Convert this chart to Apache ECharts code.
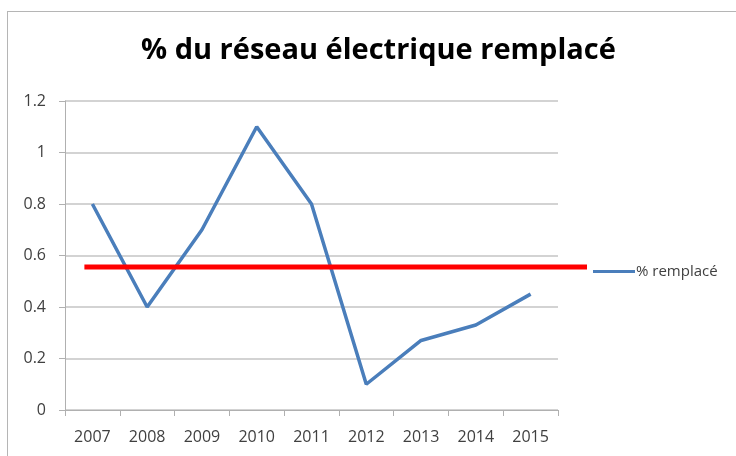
<!DOCTYPE html>
<html>
<head>
<meta charset="utf-8">
<script src="https://cdn.jsdelivr.net/npm/echarts@6/dist/echarts.min.js"></script>
<style>
  html, body { margin: 0; padding: 0; background: #fff; }
  #frame {
    position: absolute; left: 7px; top: 11px; width: 740px; height: 460px;
    border-left: 1px solid #b5b5b5; border-top: 1px solid #b5b5b5;
  }
  #chart { position: absolute; left: 0; top: 0; width: 736px; height: 456px; }
</style>
</head>
<body>
<div id="frame"></div>
<div id="chart"></div>
<script>
  // données
  const years = ['2007', '2008', '2009', '2010', '2011', '2012', '2013', '2014', '2015'];
  const remplace = [0.8, 0.4, 0.7, 1.1, 0.8, 0.1, 0.27, 0.33, 0.45];
  const redLineValue = 0.555; // trait rouge ajouté sur l'image
  const seriesName = '% remplacé';
  const titleText = '% du réseau électrique remplacé';

  const chart = echarts.init(document.getElementById('chart'));
  const labelFont = { color: '#404040', fontSize: 16, fontFamily: 'Open Sans' };

  chart.setOption({
    animation: false,
    title: {
      text: titleText,
      left: 136,
      top: 31,
      textStyle: { fontFamily: 'Open Sans', fontWeight: 'bold', fontSize: 29, color: '#000' }
    },
    legend: {
      data: [seriesName],
      left: 588,
      top: 259,
      itemWidth: 42,
      itemHeight: 3,
      itemGap: 2,
      icon: 'rect',
      textStyle: { color: '#404040', fontSize: 15, fontFamily: 'Open Sans', padding: [0, 0, 0, -4] }
    },
    grid: { left: 65, right: 178, top: 101, bottom: 46 },
    xAxis: {
      type: 'category',
      data: years,
      boundaryGap: true,
      axisLine: { lineStyle: { color: '#b0b0b0', width: 1 } },
      axisTick: { show: true, length: 6, lineStyle: { color: '#b0b0b0' } },
      axisLabel: Object.assign({ margin: 19 }, labelFont)
    },
    yAxis: {
      type: 'value',
      min: 0,
      max: 1.2,
      interval: 0.2,
      axisLine: { show: true, lineStyle: { color: '#b0b0b0', width: 1 } },
      axisTick: { show: true, length: 6, inside: false, lineStyle: { color: '#b0b0b0' } },
      splitLine: { lineStyle: { color: '#c4c4c4', width: 1.5 } },
      axisLabel: Object.assign({ margin: 19, formatter: v => String(+v.toFixed(1)) }, labelFont)
    },
    series: [{
      name: seriesName,
      type: 'line',
      data: remplace,
      symbol: 'none',
      lineStyle: { color: '#4a7ebb', width: 3.5 },
      itemStyle: { color: '#4a7ebb' }
    }]
  });

  // trait rouge horizontal, position verticale tirée de l'axe
  const y = chart.convertToPixel({ yAxisIndex: 0 }, redLineValue);
  const x0 = chart.convertToPixel({ xAxisIndex: 0 }, years[0]) - 8;
  const x1 = 587;
  chart.setOption({
    graphic: [{
      type: 'line',
      shape: { x1: x0, y1: y, x2: x1, y2: y },
      style: { stroke: '#ff0000', lineWidth: 5 },
      z: 100
    }]
  });
</script>
</body>
</html>
